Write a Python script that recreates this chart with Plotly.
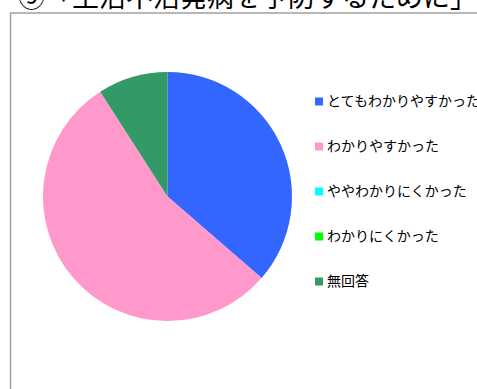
import plotly.graph_objects as go

title_text = "⑨「生活不活発病を予防するために」"
labels = ["とてもわかりやすかった", "わかりやすかった", "ややわかりにくかった", "わかりにくかった", "無回答"]
values = [4, 6, 0, 0, 1]
colors = ["#3366FF", "#FF99CC", "#00FFFF", "#00FF00", "#339966"]

W, H = 477, 389
cx, cy, r = 167.5, 196.5, 124.5

fig = go.Figure(go.Pie(
    labels=labels, values=values, sort=False, direction="clockwise", rotation=0,
    marker=dict(colors=colors, line=dict(width=0)),
    textinfo="none", hoverinfo="label+value+percent", showlegend=False,
    domain=dict(x=[(cx - r) / W, (cx + r) / W], y=[(H - cy - r) / H, (H - cy + r) / H]),
))

shapes = [dict(type="rect", xref="paper", yref="paper",
               x0=10.5 / W, x1=1.05, y0=-0.05, y1=1 - 13 / H,
               line=dict(color="#A0A0A0", width=1.5), fillcolor="rgba(0,0,0,0)")]
annotations = [dict(text=title_text, xref="paper", yref="paper", x=16 / W, y=1 + 4 / H,
                    xanchor="left", yanchor="middle", showarrow=False,
                    font=dict(size=27, color="black", family="Noto Sans CJK JP"))]

y0, step = 101.5, 45
for i, (lab, col) in enumerate(zip(labels, colors)):
    yc = y0 + step * i
    shapes.append(dict(type="rect", xref="paper", yref="paper",
                       x0=315 / W, x1=323 / W, y0=1 - (yc + 4) / H, y1=1 - (yc - 4) / H,
                       line=dict(width=0), fillcolor=col))
    annotations.append(dict(text=lab, xref="paper", yref="paper", x=325 / W, y=1 - (yc - 1.5) / H,
                            xanchor="left", yanchor="middle", showarrow=False,
                            font=dict(size=14, color="black", family="Noto Sans CJK JP")))

fig.update_layout(width=W, height=H, margin=dict(l=0, r=0, t=0, b=0),
                  paper_bgcolor="white", plot_bgcolor="white",
                  shapes=shapes, annotations=annotations)
fig.write_html("out.html")
